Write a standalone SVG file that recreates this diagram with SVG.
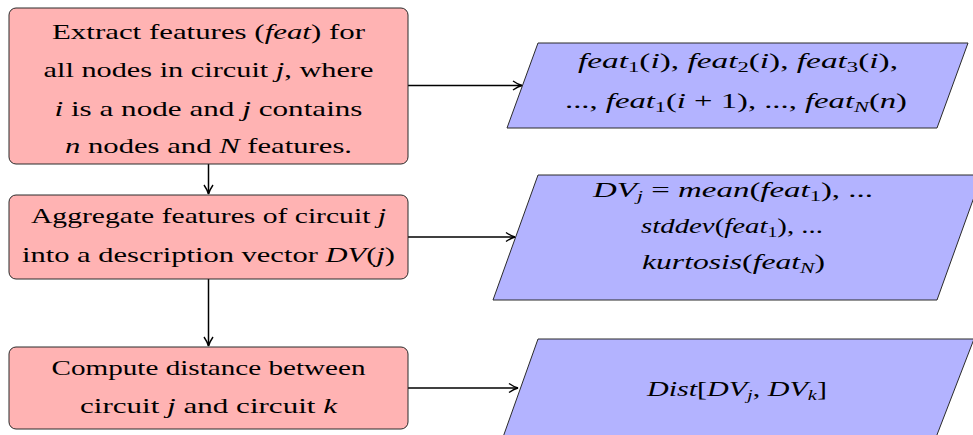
<svg xmlns="http://www.w3.org/2000/svg" width="973" height="435" viewBox="0 0 973 435">
<style>
.box{fill:#ffb3b3;stroke:#2a2a2a;stroke-width:1}
.io{fill:#b3b3ff;stroke:#2a2a2a;stroke-width:1}
.t{font-family:"Liberation Serif","Times New Roman",serif;font-size:22px;text-anchor:middle;fill:#000}
.i{font-style:italic}
.s{font-size:15px}
.c{stroke:#000;stroke-width:1.5;fill:none;marker-end:url(#ah)}
</style>
<defs>
<marker id="ah" markerUnits="userSpaceOnUse" markerWidth="14" markerHeight="14" refX="11" refY="7" orient="auto">
<path d="M2,2.5 C4.5,4.2 8,6.3 11,7 C8,7.7 4.5,9.8 2,11.5" fill="none" stroke="#000" stroke-width="1.4"/>
</marker>
</defs>
<g id="connectors">
<path class="c" d="M408,85.5 H522"/>
<path class="c" d="M408,237 H515"/>
<path class="c" d="M408,388 H518"/>
<path class="c" d="M208.5,164 V194"/>
<path class="c" d="M208.5,279 V346"/>
</g>
<g id="extract">
<rect class="box" x="9" y="8" width="399" height="156" rx="7"/>
<text class="t" x="208.5" y="39" textLength="313" lengthAdjust="spacingAndGlyphs">Extract features (<tspan class="i">feat</tspan>) for</text>
<text class="t" x="208.5" y="77" textLength="330" lengthAdjust="spacingAndGlyphs">all nodes in circuit <tspan class="i">j</tspan>, where</text>
<text class="t" x="208.5" y="116" textLength="308" lengthAdjust="spacingAndGlyphs"><tspan class="i">i</tspan> is a node and <tspan class="i">j</tspan> contains</text>
<text class="t" x="208.5" y="153" textLength="287" lengthAdjust="spacingAndGlyphs"><tspan class="i">n</tspan> nodes and <tspan class="i">N</tspan> features.</text>
</g>
<g id="aggregate">
<rect class="box" x="9" y="195" width="399" height="84" rx="7"/>
<text class="t" x="208.5" y="223" textLength="355" lengthAdjust="spacingAndGlyphs">Aggregate features of circuit <tspan class="i">j</tspan></text>
<text class="t" x="208.5" y="262" textLength="373" lengthAdjust="spacingAndGlyphs">into a description vector <tspan class="i">DV</tspan>(<tspan class="i">j</tspan>)</text>
</g>
<g id="compute">
<rect class="box" x="9" y="347" width="399" height="82" rx="7"/>
<text class="t" x="208.5" y="375" textLength="314" lengthAdjust="spacingAndGlyphs">Compute distance between</text>
<text class="t" x="208.5" y="413" textLength="257" lengthAdjust="spacingAndGlyphs">circuit <tspan class="i">j</tspan> and circuit <tspan class="i">k</tspan></text>
</g>
<g id="features">
<polygon class="io" points="538,43 968,43 937,128 507,128"/>
<text class="t" x="738" y="68" textLength="320" lengthAdjust="spacingAndGlyphs"><tspan class="i">feat</tspan><tspan class="s" dy="4">1</tspan><tspan dy="-4">(</tspan><tspan class="i">i</tspan>), <tspan class="i">feat</tspan><tspan class="s" dy="4">2</tspan><tspan dy="-4">(</tspan><tspan class="i">i</tspan>), <tspan class="i">feat</tspan><tspan class="s" dy="4">3</tspan><tspan dy="-4">(</tspan><tspan class="i">i</tspan>),</text>
<text class="t" x="736" y="108" textLength="342" lengthAdjust="spacingAndGlyphs">..., <tspan class="i">feat</tspan><tspan class="s" dy="4">1</tspan><tspan dy="-4">(</tspan><tspan class="i">i</tspan> + 1), ..., <tspan class="i">feat</tspan><tspan class="s i" dy="4">N</tspan><tspan dy="-4">(</tspan><tspan class="i">n</tspan>)</text>
</g>
<g id="vector">
<polygon class="io" points="538,175 982,175 937,300 493,300"/>
<text class="t" x="733" y="197" textLength="280" lengthAdjust="spacingAndGlyphs"><tspan class="i">DV</tspan><tspan class="s i" dy="4">j</tspan><tspan dy="-4"> = </tspan><tspan class="i">mean</tspan>(<tspan class="i">feat</tspan><tspan class="s" dy="4">1</tspan><tspan dy="-4">), ...</tspan></text>
<text class="t" x="732" y="233" textLength="182" lengthAdjust="spacingAndGlyphs"><tspan class="i">stddev</tspan>(<tspan class="i">feat</tspan><tspan class="s" dy="4">1</tspan><tspan dy="-4">), ...</tspan></text>
<text class="t" x="733.5" y="269" textLength="183" lengthAdjust="spacingAndGlyphs"><tspan class="i">kurtosis</tspan>(<tspan class="i">feat</tspan><tspan class="s i" dy="4">N</tspan><tspan dy="-4">)</tspan></text>
</g>
<g id="distance">
<polygon class="io" points="538,339 974,339 935,440 502,440"/>
<text class="t" x="737" y="396" textLength="180" lengthAdjust="spacingAndGlyphs"><tspan class="i">Dist</tspan>[<tspan class="i">DV</tspan><tspan class="s i" dy="4">j</tspan><tspan dy="-4">, </tspan><tspan class="i">DV</tspan><tspan class="s i" dy="4">k</tspan><tspan dy="-4">]</tspan></text>
</g>
</svg>
